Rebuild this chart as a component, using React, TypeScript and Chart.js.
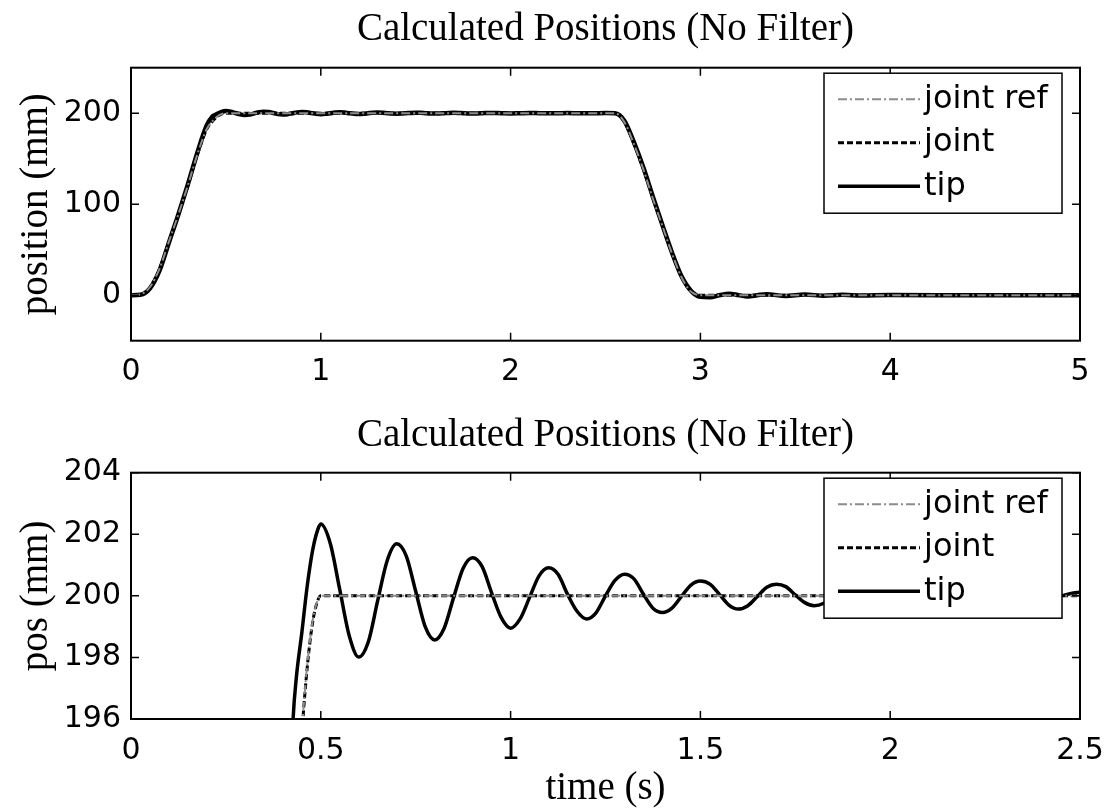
import React, { useEffect, useRef } from "react";
import { Chart, registerables } from "chart.js";

Chart.register(...registerables);

const TITLE = "Calculated Positions (No Filter)";
const SERIES_LABELS = ["joint ref", "joint", "tip"];
const TOP_Y_LABEL = "position (mm)";
const BOTTOM_Y_LABEL = "pos (mm)";
const BOTTOM_X_LABEL = "time (s)";

// joint reference / joint trajectories (time in s, position in mm)
const refTime = [0, 0.05, 0.1, 0.15, 0.2, 0.25, 0.3, 0.35, 0.4, 0.44, 0.45, 0.46, 0.47, 0.48, 0.49, 0.5,
  2.55, 2.6, 2.65, 2.7, 2.75, 2.8, 2.85, 2.9, 2.94, 2.96, 2.98, 3.0, 5.0];
const jointRefPos = [0, 1, 9, 29, 59, 89, 121, 155, 183, 193.6, 195.6, 197.2, 198.4, 199.3, 199.8, 200,
  200, 190, 166, 138, 106, 76, 46, 20, 6, 2.6, 0.6, 0, 0];
const jointPos = [0, 0.8, 8.6, 28.6, 58.6, 88.6, 120.6, 154.6, 182.7, 193.5, 195.5, 197.1, 198.35, 199.25, 199.78, 200,
  200, 190.4, 166.4, 138.4, 106.4, 76.4, 46.4, 20.4, 6.2, 2.7, 0.7, 0.02, 0];

// tip trajectory
const tipTime = [
  0, 0.05, 0.1, 0.15, 0.2, 0.25, 0.3, 0.35, 0.4, 0.427, 0.436, 0.45, 0.464, 0.478, 0.492,
  0.5, 0.525, 0.55, 0.575, 0.6, 0.625, 0.65, 0.675, 0.7, 0.725, 0.75, 0.775, 0.8, 0.825, 0.85, 0.875, 0.9, 0.925, 0.95, 0.975,
  1.0, 1.025, 1.05, 1.075, 1.1, 1.125, 1.15, 1.175, 1.2, 1.225, 1.25, 1.275, 1.3, 1.325, 1.35, 1.375, 1.4, 1.425, 1.45, 1.475,
  1.5, 1.525, 1.55, 1.575, 1.6, 1.625, 1.65, 1.675, 1.7, 1.725, 1.75, 1.775, 1.8, 1.825, 1.85,
  1.9, 1.95, 2.0, 2.05, 2.1, 2.15, 2.2, 2.25, 2.3, 2.35, 2.4, 2.45, 2.5,
  2.55, 2.6, 2.65, 2.7, 2.75, 2.8, 2.85, 2.9, 2.95, 3.0, 3.05, 3.1, 3.15, 3.2, 3.25, 3.3, 3.35, 3.45, 3.55, 3.65, 3.75, 3.85, 4.0, 4.5, 5.0,
];
const tipPos = [
  0, 0.5, 7.5, 27, 58, 89, 122, 157, 187, 196, 197.4, 198.8, 200.3, 201.45, 202.15,
  202.33, 201.7, 200.2, 198.7, 198.01, 198.5, 199.85, 201.15, 201.69, 201.3, 200.15, 199.0, 198.57, 198.95, 199.95, 200.9, 201.24, 200.95, 200.1, 199.3,
  198.95, 199.25, 199.95, 200.65, 200.91, 200.7, 200.05, 199.5, 199.25, 199.45, 200.0, 200.5, 200.7, 200.55, 200.05, 199.6, 199.46, 199.6, 199.98, 200.35,
  200.48, 200.38, 200.05, 199.7, 199.57, 199.68, 199.98, 200.28, 200.38, 200.3, 200.03, 199.78, 199.68, 199.76, 199.98,
  200.3, 200.0, 199.74, 199.99, 200.22, 200.02, 199.82, 199.99, 200.17, 200.02, 199.87, 200.0, 200.12,
  199.95, 191.5, 168, 140, 108, 77, 47, 21, 5, -1.8, -2.3, -0.1, 1.7, 0.1, -1.4, 0, 1.1, -0.9, 0.7, -0.55, 0.45, -0.35, 0.1, 0, 0,
];

const topXTicks = [0, 1, 2, 3, 4, 5];
const topYTicks = [0, 100, 200];
const bottomXTicks = [0, 0.5, 1, 1.5, 2, 2.5];
const bottomYTicks = [196, 198, 200, 202, 204];

const SANS = '"DejaVu Sans", sans-serif';
const SERIF = '"Liberation Serif", "Times New Roman", serif';

const toPoints = (xs: number[], ys: number[]) => xs.map((x, i) => ({ x, y: ys[i] }));

function makeFramePlugin(xTicks: number[], yTicks: number[]) {
  return {
    id: "matlabFrame",
    afterDatasetsDraw(chart: any) {
      const { ctx, chartArea: a, scales } = chart;
      ctx.save();
      // inward tick marks on all four sides
      ctx.strokeStyle = "#000";
      ctx.lineWidth = 1.5;
      ctx.setLineDash([]);
      ctx.beginPath();
      const tl = 8;
      for (const v of xTicks) {
        const px = scales.x.getPixelForValue(v);
        ctx.moveTo(px, a.bottom);
        ctx.lineTo(px, a.bottom - tl);
        ctx.moveTo(px, a.top);
        ctx.lineTo(px, a.top + tl);
      }
      for (const v of yTicks) {
        const py = scales.y.getPixelForValue(v);
        ctx.moveTo(a.left, py);
        ctx.lineTo(a.left + tl, py);
        ctx.moveTo(a.right, py);
        ctx.lineTo(a.right - tl, py);
      }
      ctx.stroke();

      // legend box (inside, north-east)
      const w = 238;
      const h = 140;
      const lx = a.right - 18 - w;
      const ly = a.top + 5.5;
      ctx.fillStyle = "#fff";
      ctx.fillRect(lx, ly, w, h);
      ctx.lineWidth = 1.5;
      ctx.strokeStyle = "#000";
      ctx.strokeRect(lx, ly, w, h);
      const rows = [26, 69.5, 113];
      chart.data.datasets.forEach((ds: any, i: number) => {
        const y = ly + rows[i];
        ctx.save();
        ctx.strokeStyle = ds.borderColor;
        ctx.lineWidth = Math.min(ds.borderWidth, 3.5);
        ctx.setLineDash(ds.borderDash || []);
        ctx.beginPath();
        ctx.moveTo(lx + 14, y);
        ctx.lineTo(lx + 96, y);
        ctx.stroke();
        ctx.restore();
        ctx.fillStyle = "#000";
        ctx.font = `32px ${SANS}`;
        ctx.textBaseline = "middle";
        ctx.textAlign = "left";
        ctx.fillText(ds.label, lx + 100, y);
      });

      // axes box
      ctx.lineWidth = 2;
      ctx.strokeStyle = "#000";
      ctx.strokeRect(a.left, a.top, a.right - a.left, a.bottom - a.top);
      ctx.restore();
    },
  };
}

function makeConfig(p: {
  xMin: number; xMax: number; yMin: number; yMax: number;
  xTicks: number[]; yTicks: number[];
  xAxisHeight: number; titlePad: { top: number; bottom: number };
  yLabel: string; xLabel?: string; tipWidth: number; jointWidth: number;
}) {
  const lineCommon = { pointRadius: 0, fill: false, cubicInterpolationMode: "monotone" as const };
  return {
    type: "line" as const,
    data: {
      datasets: [
        { label: SERIES_LABELS[0], data: toPoints(refTime, jointRefPos), borderColor: "#8c8c8c", borderWidth: 2, borderDash: [9, 3, 2, 3], ...lineCommon },
        { label: SERIES_LABELS[1], data: toPoints(refTime, jointPos), borderColor: "#000", borderWidth: p.jointWidth, borderDash: [6, 3], ...lineCommon },
        { label: SERIES_LABELS[2], data: toPoints(tipTime, tipPos), borderColor: "#000", borderWidth: p.tipWidth, ...lineCommon },
      ],
    },
    options: {
      responsive: false,
      animation: false as const,
      devicePixelRatio: 1,
      events: [],
      layout: { padding: { left: 0, right: 28, top: 0, bottom: 0 } },
      plugins: {
        legend: { display: false },
        tooltip: { enabled: false },
        title: {
          display: true,
          text: TITLE,
          fullSize: false,
          color: "#000",
          font: { family: SERIF, size: 39, weight: "normal" as const, lineHeight: 1.2 },
          padding: p.titlePad,
        },
      },
      scales: {
        x: {
          type: "linear" as const,
          min: p.xMin,
          max: p.xMax,
          afterBuildTicks: (s: any) => { s.ticks = p.xTicks.map((v) => ({ value: v })); },
          afterFit: (s: any) => { s.height = p.xAxisHeight; s.paddingRight = 0; s.paddingLeft = 0; },
          grid: { display: false, drawTicks: false },
          border: { display: false },
          ticks: {
            autoSkip: false, maxRotation: 0, padding: 14, color: "#000",
            font: { family: SANS, size: 30 },
            callback: (v: any) => String(v),
          },
          title: {
            display: !!p.xLabel,
            text: p.xLabel || "",
            color: "#000",
            font: { family: SERIF, size: 39, lineHeight: 1.2 },
            padding: { top: 0, bottom: 0 },
          },
        },
        y: {
          type: "linear" as const,
          min: p.yMin,
          max: p.yMax,
          afterBuildTicks: (s: any) => { s.ticks = p.yTicks.map((v) => ({ value: v })); },
          afterFit: (s: any) => { s.width = 131; s.paddingTop = 0; s.paddingBottom = 0; },
          grid: { display: false, drawTicks: false },
          border: { display: false },
          ticks: {
            padding: 10, color: "#000",
            font: { family: SANS, size: 30 },
            callback: (v: any) => String(v),
          },
          title: {
            display: true,
            text: p.yLabel,
            color: "#000",
            font: { family: SERIF, size: 39, lineHeight: 1.2 },
            padding: { top: 13, bottom: 0 },
          },
        },
      },
    },
    plugins: [makeFramePlugin(p.xTicks, p.yTicks)],
  };
}

function PlotCanvas(props: { top: number; height: number; config: any }) {
  const ref = useRef<HTMLCanvasElement | null>(null);
  useEffect(() => {
    if (!ref.current) return;
    const chart = new Chart(ref.current, props.config);
    return () => chart.destroy();
  }, []);
  return (
    <canvas
      ref={ref}
      width={1108}
      height={props.height}
      style={{ position: "absolute", left: 0, top: props.top, width: 1108, height: props.height }}
    />
  );
}

export default function App() {
  const topConfig = makeConfig({
    xMin: 0, xMax: 5, yMin: -50, yMax: 250,
    xTicks: topXTicks, yTicks: topYTicks,
    xAxisHeight: 59.3, titlePad: { top: 6.6, bottom: 14.3 },
    yLabel: TOP_Y_LABEL, tipWidth: 4.5, jointWidth: 3,
  });
  const bottomConfig = makeConfig({
    xMin: 0, xMax: 2.5, yMin: 196, yMax: 204,
    xTicks: bottomXTicks, yTicks: bottomYTicks,
    xAxisHeight: 93, titlePad: { top: 12.6, bottom: 13.3 },
    yLabel: BOTTOM_Y_LABEL, xLabel: BOTTOM_X_LABEL, tipWidth: 3.5, jointWidth: 3,
  });
  return (
    <div style={{ position: "absolute", left: 0, top: 0, width: 1108, height: 812, background: "#fff", overflow: "hidden" }}>
      <PlotCanvas top={0} height={400} config={topConfig} />
      <PlotCanvas top={400} height={412} config={bottomConfig} />
    </div>
  );
}
